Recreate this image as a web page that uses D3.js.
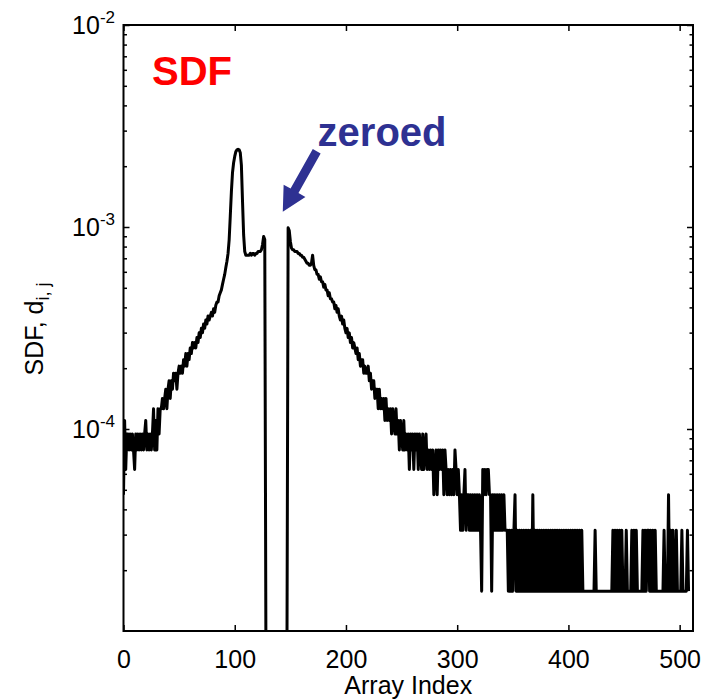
<!DOCTYPE html>
<html>
<head>
<meta charset="utf-8">
<script src="https://cdn.jsdelivr.net/npm/d3@7"></script>
<style>
  body { margin: 0; background: #fff; }
  text { font-family: "Liberation Sans", Arial, Helvetica, sans-serif; }
</style>
</head>
<body>
<svg id="chart"></svg>
<script>
// histogram counts per array index 0..508 (one count = sdfUnit), bins 128-147 zeroed
const counts = [
  3,7,4,6,6,5,6,5,6,5,
  4,6,5,6,5,6,5,6,5,6,
  7,5,6,5,6,5,6,8,5,7,
  5,8,6,8,8,9,8,
  9,10,8,10,11,9,11,10,12,11,
  12,10,12,13,12,13,12,14,13,15,
  13,15,14,16,15,17,16,17,16,18,
  17,19,18,20,19,21,20,22,21,23,
  22,23,24,23,25,24,26,27,27,29,
  30,31,33,35,37,40,43,47,
  55,72,95,118,132,142,150,153,154,153,148,128,85,58,48,46,
  46,46,46,47,46,47,47,46,47,47,48,
  48,48,49,52,57,55,
  0,0,0,0,0,0,0,0,0,0,0,0,0,0,0,0,0,0,0,0,
  63,61,54,50,49,49,48,48,48,47,47,46,46,45,45,44,43,42,42,41,41,42,46,
  41,39,39,37,37,35,36,34,34,32,33,31,31,29,30,28,28,27,27,25,26,24,25,23,
  22,23,21,22,20,19,20,18,19,17,18,16,17,16,15,
  16,14,15,13,14,14,12,13,12,12,
  13,11,12,10,11,11,9,10,10,8,
  10,8,9,8,9,7,9,7,8,7,
  8,6,8,7,6,8,6,7,5,7,
  6,5,7,5,6,5,6,4,6,5,
  6,4,6,5,6,4,6,5,4,6,
  4,5,6,4,5,4,5,4,5,3,
  4,5,3,5,4,5,4,5,3,5,
  4,3,4,3,4,3,4,3,5,4,
  3,4,3,2,3,2,3,4,2,3,
  3,2,3,2,3,2,3,2,3,2,
  3,2,1,4,3,4,3,4,4,3,
  3,1,3,2,3,2,3,2,3,2,
  3,2,3,2,2,
  2,1,2,1,2,1,2,3,1,2,
  1,2,1,2,1,2,1,2,1,2,
  1,2,1,3,1,2,1,2,1,2,
  1,2,1,2,1,2,1,2,1,2,
  1,2,1,2,1,2,1,2,1,2,
  1,2,1,2,1,2,1,2,1,2,
  1,2,1,2,1,2,1,2,1,1,
  1,1,1,1,1,1,1,1,1,2,
  1,1,1,1,1,1,1,1,1,1,
  1,1,1,1,1,2,1,2,1,2,
  1,2,1,2,1,1,1,2,1,1,
  1,1,2,1,2,1,2,1,1,1,
  1,1,2,1,2,1,2,2,1,2,
  1,2,1,2,1,1,1,1,1,1,
  1,2,1,1,1,3,1,2,1,2,
  1,1,2,1,1,1,1,2,1,1,
  1,1,2,1
];
const sdfUnit = 1.575e-5;

const xTicks = [0, 100, 200, 300, 400, 500];
const yTicks = [1e-2, 1e-3, 1e-4];
const yTickExps = ["-2", "-3", "-4"];
const yMinor = [2,3,4,5,6,7,8,9].flatMap(m => [1e-5, 1e-4, 1e-3].map(p => m * p));

const W = 706, H = 699;
const margin = { top: 25, right: 13, bottom: 68, left: 123.5 };
const width = W - margin.left - margin.right;
const height = H - margin.top - margin.bottom;

const svg = d3.select("#chart").attr("width", W).attr("height", H);
const g = svg.append("g").attr("transform", `translate(${margin.left},${margin.top})`);

const x = d3.scaleLinear().domain([0, 512]).range([0, width]);
const y = d3.scaleLog().domain([1e-5, 1e-2]).range([height, 0]);

g.append("clipPath").attr("id", "plotClip")
  .append("rect").attr("width", width).attr("height", height);

// data line; zeroed bins drop to the bottom of the axes
const line = d3.line()
  .x((d, i) => x(i))
  .y(d => d > 0 ? y(d * sdfUnit) : height + 4);

g.append("path")
  .datum(counts)
  .attr("clip-path", "url(#plotClip)")
  .attr("fill", "none")
  .attr("stroke", "#000")
  .attr("stroke-width", 3)
  .attr("stroke-linejoin", "round")
  .attr("d", line);

// axes, ticks inward
function styleAxis(sel) {
  sel.select(".domain").remove();
  sel.selectAll(".tick line").attr("stroke", "#000").attr("stroke-width", 1.5);
}

g.append("g").attr("transform", `translate(0,${height})`)
  .call(d3.axisBottom(x).tickValues(xTicks).tickSize(-6).tickPadding(19))
  .call(styleAxis)
  .call(s => s.selectAll(".tick text").attr("font-size", 25).attr("fill", "#000")
    .style("font-family", '"Liberation Sans", Arial, sans-serif'));

g.append("g")
  .call(d3.axisTop(x).tickValues(xTicks).tickSize(-6).tickFormat(""))
  .call(styleAxis);

g.append("g")
  .call(d3.axisLeft(y).tickValues(yTicks).tickSize(-6).tickFormat(""))
  .call(styleAxis);
g.append("g")
  .call(d3.axisLeft(y).tickValues(yMinor).tickSize(-3.5).tickFormat(""))
  .call(styleAxis);
g.append("g").attr("transform", `translate(${width},0)`)
  .call(d3.axisRight(y).tickValues(yTicks).tickSize(-6).tickFormat(""))
  .call(styleAxis);
g.append("g").attr("transform", `translate(${width},0)`)
  .call(d3.axisRight(y).tickValues(yMinor).tickSize(-3.5).tickFormat(""))
  .call(styleAxis);

// y tick labels 10^k
const yl = g.append("g").selectAll("text")
  .data(yTicks)
  .join("text")
  .attr("x", -8.5)
  .attr("y", d => y(d) + 9)
  .attr("text-anchor", "end")
  .attr("font-size", 25)
  .attr("fill", "#000");
yl.append("tspan").text("10");
yl.append("tspan").attr("font-size", 17).attr("dy", -11).text((d, i) => yTickExps[i]);

// box
g.append("rect")
  .attr("width", width).attr("height", height)
  .attr("fill", "none").attr("stroke", "#000").attr("stroke-width", 2);

// axis titles
svg.append("text")
  .attr("x", margin.left + x(256)).attr("y", 694)
  .attr("text-anchor", "middle").attr("font-size", 25).attr("fill", "#000")
  .text("Array Index");

const ylab = svg.append("text")
  .attr("transform", "translate(43,329) rotate(-90)")
  .attr("text-anchor", "middle").attr("font-size", 25).attr("fill", "#000");
ylab.append("tspan").text("SDF, d");
ylab.append("tspan").attr("font-size", 18).attr("dy", 6).text("i, j");

// annotations
const blue = "#2e3192";
g.append("text")
  .attr("x", x(25.6)).attr("y", 60)
  .attr("font-size", 40).attr("font-weight", "bold").attr("fill", "#ff0000")
  .text("SDF");

g.append("text")
  .attr("x", x(174.5)).attr("y", 121)
  .attr("font-size", 40).attr("font-weight", "bold").attr("fill", blue)
  .text("zeroed");

// arrow from text down to the gap
const tail = [x(173.7), y(2.37e-3)], tip = [x(143.2), y(1.19e-3)];
const dx = tip[0] - tail[0], dy = tip[1] - tail[1];
const len = Math.hypot(dx, dy), ux = dx / len, uy = dy / len, px = -uy, py = ux;
const headLen = 24, headW = 12.5, shaftW = 4.5;
const bx = tip[0] - ux * headLen, by = tip[1] - uy * headLen;
const arrowPts = [
  [tail[0] + px * shaftW, tail[1] + py * shaftW],
  [bx + px * shaftW, by + py * shaftW],
  [bx + px * headW, by + py * headW],
  tip,
  [bx - px * headW, by - py * headW],
  [bx - px * shaftW, by - py * shaftW],
  [tail[0] - px * shaftW, tail[1] - py * shaftW]
];
g.append("path")
  .attr("d", "M" + arrowPts.map(p => p.join(",")).join("L") + "Z")
  .attr("fill", blue);
</script>
</body>
</html>
